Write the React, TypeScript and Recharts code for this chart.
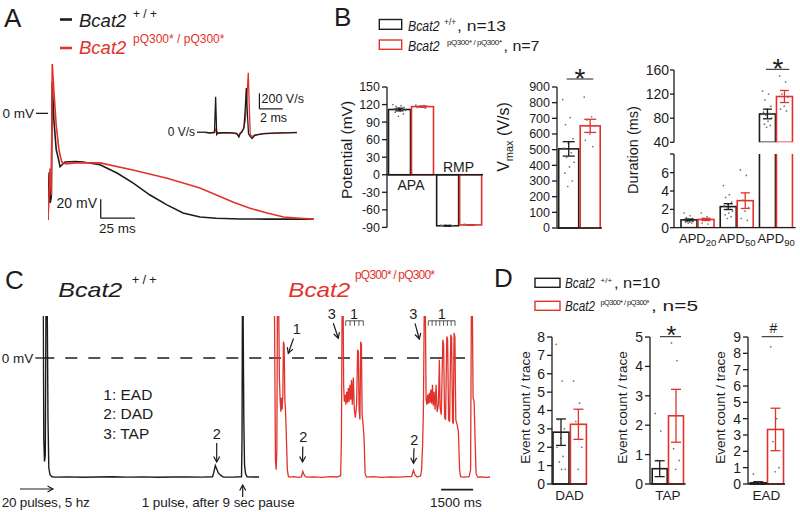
import React from 'react';
import { LineChart, Line, BarChart, Bar, ErrorBar, XAxis, YAxis, ReferenceLine } from 'recharts';

const RED = '#e2322c';
const INK = '#1c1c1c';
const DOT = '#707070';
const FONT = '"Liberation Sans", Arial, Helvetica, sans-serif';

// ---------------- Panel A : action potentials (time ms, membrane potential mV) ----------------
const apWildType: [number, number][] = [
  [0, -112], [0.8, -62], [1.6, -94], [2.4, -88], [3.1, 33], [4.3, -7], [6.0, -38], [7.5, -47], [8.8, -56],
  [12.4, -51], [20, -50.5], [25.6, -51], [38, -54], [50.4, -62.6], [62, -73], [74.5, -85.7], [86.9, -96],
  [98.6, -104.6], [111, -108.8], [123, -110], [140, -110.8], [160, -111], [194, -111],
];
const apMutant: [number, number][] = [
  [0, -112], [1.5, -58], [2.5, -86], [3.1, 51.7], [4.5, 19], [6, -12.4], [8, -38.5], [10, -51], [13, -53],
  [20, -52], [38, -52], [62, -59.5], [87, -68], [111, -78.4], [135, -93], [147, -99.4], [160, -104.6],
  [172, -108.8], [184, -110], [194, -111],
];
// inset : dV/dt (time ms, V/s)
const dvdtWildType: [number, number][] = [
  [0, 0], [0.43, -10], [0.81, 0], [0.91, 456], [1.0, -30], [1.11, -10], [1.71, -5], [2.39, -8], [2.7, -15],
  [2.9, -62], [3.0, -20], [3.15, 0], [3.33, 60], [3.44, 300], [3.53, 568], [3.62, 250], [3.72, -20],
  [3.89, -60], [4.02, -80], [4.27, -40], [4.87, -20], [5.98, -12], [7.86, -5],
];
const dvdtMutant: [number, number][] = [
  [0, -5], [0.81, -8], [0.94, 40], [1.07, -15], [1.97, -5], [2.75, -20], [2.88, -45], [3.0, -10], [3.29, 40],
  [3.44, 150], [3.57, 420], [3.7, 765], [3.79, 300], [3.87, -30], [4.02, -55], [4.27, -35], [5.13, -15],
  [6.41, -8], [7.86, -2],
];

// ---------------- Panel B : bar charts ----------------
const potentialCats = ['APA', 'RMP'];
const potentialWt = [111.5, -87.2];
const potentialWtErr = [2.3, 0.6];
const potentialMut = [116.5, -85.8];
const potentialMutErr = [1.0, 0.5];
const potentialWtDots = [
  [120, 118, 117, 115, 114, 113, 112, 111, 110, 109, 107, 104, 100],
  [-86, -86.5, -87, -87, -87.5, -88, -87, -86.5, -88, -87.5, -87, -88, -87],
];
const potentialMutDots = [
  [119, 118, 117, 117, 116, 115, 114],
  [-85, -86, -86.5, -85.5, -86, -85, -86],
];

const vmaxCats = ['Vmax'];
const vmaxWt = [505];
const vmaxWtErr = [46];
const vmaxMut = [652];
const vmaxMutErr = [42];
const vmaxWtDots = [[820, 705, 660, 570, 540, 510, 480, 450, 420, 390, 350, 300, 265]];
const vmaxMutDots = [[835, 710, 690, 650, 600, 560, 520]];

const apdCats = ['APD20', 'APD50', 'APD90'];
const apdWt = [0.85, 2.3, 87];
const apdWtErr = [0.1, 0.32, 8];
const apdMut = [0.9, 2.95, 116];
const apdMutErr = [0.12, 0.85, 10];
const apdWtDots = [
  [1.6, 1.3, 1.1, 1.0, 0.9, 0.8, 0.8, 0.7, 0.7, 0.6, 0.6, 0.5, 0.5],
  [4.6, 3.6, 3.3, 2.8, 2.6, 2.4, 2.2, 2.0, 1.8, 1.6, 1.4, 1.2, 1.0],
  [125, 120, 110, 100, 95, 90, 88, 85, 80, 75, 70, 68, 65],
];
const apdMutDots = [
  [1.6, 1.2, 1.0, 0.9, 0.8, 0.5, 0.4],
  [6.3, 5.7, 3.0, 2.2, 1.8, 1.0, 0.8],
  [150, 140, 120, 115, 100, 95, 92],
];

// ---------------- Panel C : long recordings (time ms, mV) ----------------
const cWildType: [number, number][] = [
  [0, 40], [42, 40], [70, -58.4], [103, -74], [141, -69], [173, 40], [230, 40], [267, -44], [305, -78.4],
  [361, -83.4], [455, -84.8], [595, -85.1], [1200, -84.9], [1900, -85.2], [2600, -85.0], [3300, -84.8],
  [4000, -85.1], [4700, -84.9], [5400, -85.2], [6100, -85.0], [6800, -84.9], [7500, -85.1], [7978, -84.8],
  [8034, -81.9], [8109, -76.9], [8166, -79], [8250, -82.1], [8353, -83.7], [8484, -85], [8900, -85.1],
  [9338, -84.8], [9361, -58.4], [9380, 40], [9408, 40], [9445, -44], [9478, -76.2], [9525, -82.6],
  [9595, -84.8], [9900, -85.0], [10158, -85.0],
];
const cMutant: [number, number][] = [
  [0, 40], [75, 40], [122, -72.6], [155, -79.8], [188, -65.5], [216, 40], [272, 40], [309, -15.5], [342, -29.8],
  [375, -38.4], [403, -28.4], [436, -36.9], [469, -26.2], [497, 11.6], [530, 9.5], [563, -29.8], [595, -36.9],
  [638, -58.4], [680, -79.8], [731, -84.8], [811, -85.1],
  [1000, -84.8], [1200, -85.2], [1340, -85.0], [1406, -81.0], [1470, -83.5], [1530, -84.8], [1620, -85.1],
  [1900, -84.9], [2300, -85.2], [2700, -84.8], [3000, -85.0],
  [3178, -84.1], [3216, -58.4], [3248, 40], [3295, 40], [3319, -19.1], [3352, -31.2], [3389, -26.2],
  [3427, -33.4], [3464, -24.1], [3502, -31.9], [3539, -21.2], [3577, -31.2], [3614, -19.1], [3652, -29.8],
  [3689, -15.5], [3727, -33.4], [3773, -14.0], [3820, -36.9], [3867, -42.6], [3928, -33.4], [3975, 5.9],
  [4008, 4.5], [4045, -36.9], [4083, -44], [4120, 11.6], [4153, 9.5], [4186, -40.5], [4233, -47.6],
  [4280, -58.4], [4327, -82.6], [4397, -85.1],
  [4700, -84.8], [5100, -85.2], [5500, -84.9], [5900, -85.1], [6300, -84.8], [6506, -84.8], [6591, -80.1],
  [6670, -83.7], [6764, -85.0],
  [6928, -84.1], [6975, -79.8], [7022, -61.9], [7059, -36.9], [7102, 40], [7148, 40], [7186, -29.8],
  [7223, -33.4], [7261, -26.2], [7298, -32.6], [7336, -24.8], [7373, -31.9], [7411, -22.6], [7448, -32.6],
  [7486, -19.1], [7523, -34.1], [7561, -24.1], [7608, -36.9], [7655, -19.1], [7702, -38.4], [7763, -33.4],
  [7809, -1.2], [7842, -35.5], [7898, -40.5], [7969, 13.1], [8006, 9.5], [8053, -42.6], [8100, -44],
  [8156, 15.4], [8194, 13.1], [8241, -44], [8288, -45.5], [8344, 16.6], [8381, 14.5], [8428, -45.5],
  [8461, -46.9], [8498, 17.9], [8536, 15.2], [8578, -44], [8639, -47.6], [8700, -52.6], [8756, -79.8],
  [8803, -84.8],
  [8950, -85.1], [9100, -84.9], [9202, -84.8], [9272, -79.8], [9309, 40], [9352, 40], [9389, -28.4],
  [9436, -31.2], [9483, -58.4], [9530, -82.6], [9600, -85.1], [9800, -84.9], [10000, -85.2], [10190, -85.0],
];

// ---------------- Panel D : event counts ----------------
const dadWt = [2.82]; const dadWtErr = [0.72]; const dadMut = [3.25]; const dadMutErr = [0.82];
const dadWtDots = [[7.6, 5.6, 3.5, 3.0, 2.5, 2.0, 1.5, 1.2, 0.8, 0.8]];
const dadMutDots = [[5.6, 4.4, 3.4, 2.0, 0.8]];
const tapWt = [0.52]; const tapWtErr = [0.27]; const tapMut = [2.32]; const tapMutErr = [0.9];
const tapWtDots = [[2.4, 1.8, 0.8, 0, 0, 0, 0, 0, 0, 0]];
const tapMutDots = [[4.8, 4.2, 1.2, 0.8, 0.5]];
const eadWt = [0.07]; const eadWtErr = [0.07]; const eadMut = [3.34]; const eadMutErr = [1.3];
const eadWtDots = [[0.6, 0.1, 0, 0, 0, 0, 0, 0, 0, 0]];
const eadMutDots = [[8.4, 4.0, 2.6, 1.0, 0.75]];

// ---------------- helpers ----------------
const pts = (arr: [number, number][]) => arr.map(([t, v]) => ({ t, v }));

const rows = (cats: string[], wt: number[], wtErr: number[], mut: number[], mutErr: number[], wtDots: number[][], mutDots: number[][]) =>
  cats.map((cat, i) => ({ cat, wt: wt[i], wtErr: wtErr[i], mut: mut[i], mutErr: mutErr[i], wtDots: wtDots[i], mutDots: mutDots[i] }));

const apdRows = rows(apdCats, apdWt, apdWtErr, apdMut, apdMutErr, apdWtDots, apdMutDots);
const apdUpperRows = apdRows.map((r) => (r.wt > 40 ? r : { cat: r.cat, wt: null, wtErr: null, mut: null, mutErr: null, wtDots: [], mutDots: [] }));
const apdLowerRows = apdRows.map((r) => (r.wt > 40 ? { ...r, wtErr: null, mutErr: null, wtDots: [], mutDots: [] } : r));

const barShape = (color: string, key: string, base: number) => (props: any) => {
  const { x, y, width, height, payload } = props;
  const v = payload ? payload[key] : null;
  if (v == null || !isFinite(x) || !isFinite(y) || !isFinite(height)) return <g />;
  const top = Math.min(y, y + height);
  const bot = Math.max(y, y + height);
  const valPx = v >= base ? top : bot;
  const basePx = v >= base ? bot : top;
  const dots: number[] = (payload[key + 'Dots'] as number[]) || [];
  return (
    <g>
      <rect x={x} y={top} width={width} height={bot - top} fill="#fff" stroke={color} strokeWidth={1.6} />
      {dots.map((d, i) => {
        const frac = v === base ? 0 : (d - base) / (v - base);
        const py = basePx + (valPx - basePx) * frac;
        const px = x + width * (0.2 + 0.6 * ((i * 0.618034) % 1));
        return <circle key={i} cx={px} cy={py} r={0.85} fill={DOT} />;
      })}
    </g>
  );
};

const ApdTick = (props: any) => {
  const { x, y, payload } = props;
  const sub = String(payload && payload.value != null ? payload.value : '').replace('APD', '');
  return (
    <text x={x} y={y + 15} textAnchor="middle" fontSize={13} fill={INK} fontFamily={FONT}>
      APD<tspan fontSize={9.5} dy={3.5}>{sub}</tspan>
    </text>
  );
};

type BarPanelProps = {
  plotLeft: number; plotTop: number; plotW: number; plotH: number; yW: number;
  mt: number; mb: number; mr?: number; data: any[]; domain: [number, number]; ticks: number[];
  base: number; tickSize?: number; tickMargin?: number; tickFont: number; gap: number; catGap: number;
  xAxis: 'hide' | 'plain' | 'apd'; zeroLine?: boolean; padLeft?: number; capW: number;
  tickFmt?: (v: number) => string; overflow?: boolean;
};

function BarPanel(p: BarPanelProps) {
  const xh = p.xAxis === 'hide' ? 0 : 20;
  const mr = p.mr ?? 2;
  return (
    <div style={{ position: 'absolute', left: p.plotLeft - p.yW, top: p.plotTop - p.mt }}>
      <BarChart
        width={p.yW + p.plotW + mr}
        height={p.mt + p.plotH + p.mb + xh}
        data={p.data}
        margin={{ top: p.mt, right: mr, bottom: p.mb, left: 0 }}
        barGap={p.gap}
        barCategoryGap={p.catGap}
      >
        <XAxis
          dataKey="cat"
          hide={p.xAxis === 'hide'}
          height={xh}
          padding={{ left: p.padLeft ?? 0, right: 0 }}
          tickLine={false}
          tickSize={0}
          tickMargin={p.xAxis === 'apd' ? 0 : 6}
          interval={0}
          axisLine={{ stroke: INK, strokeWidth: 1.3 }}
          tick={p.xAxis === 'apd' ? <ApdTick /> : { fontSize: 13.5, fill: INK, fontFamily: FONT }}
        />
        <YAxis
          width={p.yW}
          domain={p.domain}
          ticks={p.ticks}
          interval={0}
          allowDataOverflow={!!p.overflow}
          tickSize={p.tickSize ?? 5}
          tickMargin={p.tickMargin ?? 2}
          tick={{ fontSize: p.tickFont, fill: INK, fontFamily: FONT }}
          axisLine={{ stroke: INK, strokeWidth: 1.3 }}
          tickLine={{ stroke: INK, strokeWidth: 1.3 }}
          tickFormatter={p.tickFmt}
        />
        {p.zeroLine && <ReferenceLine y={p.base} stroke={INK} strokeWidth={1.3} />}
        <Bar dataKey="wt" isAnimationActive={false} shape={barShape(INK, 'wt', p.base)}>
          <ErrorBar dataKey="wtErr" width={p.capW} stroke={INK} strokeWidth={1.3} direction="y" />
        </Bar>
        <Bar dataKey="mut" isAnimationActive={false} shape={barShape(RED, 'mut', p.base)}>
          <ErrorBar dataKey="mutErr" width={p.capW} stroke={RED} strokeWidth={1.3} direction="y" />
        </Bar>
      </BarChart>
    </div>
  );
}

function Arrow({ x1, y1, x2, y2 }: { x1: number; y1: number; x2: number; y2: number }) {
  const dx = x2 - x1;
  const dy = y2 - y1;
  const L = Math.hypot(dx, dy);
  const ux = dx / L;
  const uy = dy / L;
  const hl = 5.5;
  const hw = 3;
  const bx = x2 - ux * hl;
  const by = y2 - uy * hl;
  const px = -uy;
  const py = ux;
  return (
    <g stroke={INK} strokeWidth={1.2} fill="none">
      <line x1={x1} y1={y1} x2={x2} y2={y2} />
      <path d={`M${bx + px * hw},${by + py * hw} L${x2},${y2} L${bx - px * hw},${by - py * hw}`} />
    </g>
  );
}

function Comb({ x1, x2, y, n }: { x1: number; x2: number; y: number; n: number }) {
  const ticks = Array.from({ length: n }, (_, i) => x1 + (i * (x2 - x1)) / (n - 1));
  return (
    <g stroke="#444" strokeWidth={0.9} fill="none">
      <line x1={x1} y1={y} x2={x2} y2={y} />
      {ticks.map((tx, i) => (
        <line key={i} x1={tx} y1={y} x2={tx} y2={y + 5} />
      ))}
    </g>
  );
}

function Overlay() {
  return (
    <svg width={800} height={512} style={{ position: 'absolute', left: 0, top: 0, pointerEvents: 'none' }} fontFamily={FONT} fill={INK}>
      {/* panel letters */}
      <text x={4} y={27} fontSize={26}>A</text>
      <text x={334} y={25.5} fontSize={26}>B</text>
      <text x={5} y={288.5} fontSize={26}>C</text>
      <text x={494} y={287} fontSize={26}>D</text>

      {/* A legend */}
      <line x1={60} y1={19.5} x2={72} y2={19.5} stroke={INK} strokeWidth={2.6} />
      <text x={79} y={26.7} fontSize={18.5} fontStyle="italic">Bcat2</text>
      <text x={133} y={18} fontSize={12}>+ / +</text>
      <line x1={60} y1={48} x2={72} y2={48} stroke={RED} strokeWidth={2.6} />
      <text x={79} y={53.5} fontSize={18.5} fontStyle="italic" fill={RED}>Bcat2</text>
      <text x={133} y={43} fontSize={12} fill={RED}>pQ300* / pQ300*</text>

      {/* A scale labels */}
      <text x={97} y={208} fontSize={14} textAnchor="end">20 mV</text>
      <text x={99} y={233} fontSize={13.5}>25 ms</text>
      <text x={261.5} y={102.5} fontSize={12.5}>200 V/s</text>
      <text x={260} y={122} fontSize={12.5}>2 ms</text>

      {/* B legend */}
      <rect x={379.3} y={19.5} width={22.4} height={9.8} fill="none" stroke={INK} strokeWidth={1.4} />
      <text x={408} y={30.5} fontSize={14} fontStyle="italic" textLength={31.5} lengthAdjust="spacingAndGlyphs">Bcat2</text>
      <text x={444} y={24.5} fontSize={8.5}>+/+</text>
      <text x={457} y={30.5} fontSize={14.5} textLength={49} lengthAdjust="spacingAndGlyphs">, n=13</text>
      <rect x={379.3} y={40} width={22.4} height={9.3} fill="none" stroke={RED} strokeWidth={1.4} />
      <text x={408} y={50.7} fontSize={14} fontStyle="italic" textLength={31.5} lengthAdjust="spacingAndGlyphs">Bcat2</text>
      <text x={447} y={45} fontSize={8} textLength={55} lengthAdjust="spacing">pQ300* / pQ300*</text>
      <text x={503.5} y={50.7} fontSize={14.5} textLength={36} lengthAdjust="spacingAndGlyphs">, n=7</text>

      {/* B axis titles */}
      <text transform="translate(351.5,150) rotate(-90)" textAnchor="middle" fontSize={15.5}>Potential  (mV)</text>
      <text transform="translate(508.7,137) rotate(-90)" textAnchor="middle" fontSize={16}>
        V<tspan fontSize={11} dy={4}>max</tspan><tspan dy={-4}> (V/s)</tspan>
      </text>
      <text transform="translate(638.2,150) rotate(-90)" textAnchor="middle" fontSize={14.5}>Duration (ms)</text>
      <text x={411} y={190} fontSize={14} textAnchor="middle">APA</text>
      <text x={458.5} y={171.7} fontSize={14} textAnchor="middle">RMP</text>

      {/* B significance */}
      <line x1={566.7} y1={79} x2={593.3} y2={79} stroke={INK} strokeWidth={1} />
      <text x={580} y={88.2} fontSize={28} textAnchor="middle">*</text>
      <line x1={766} y1={69.3} x2={789.3} y2={69.3} stroke={INK} strokeWidth={1} />
      <text x={778} y={77.9} fontSize={28} textAnchor="middle">*</text>

      {/* C titles */}
      <text x={58.3} y={296.7} fontSize={21} fontStyle="italic" textLength={64} lengthAdjust="spacingAndGlyphs">Bcat2</text>
      <text x={131.7} y={283.5} fontSize={13} textLength={25} lengthAdjust="spacing">+ / +</text>
      <text x={288.3} y={296.7} fontSize={21} fontStyle="italic" fill={RED} textLength={62} lengthAdjust="spacingAndGlyphs">Bcat2</text>
      <text x={355} y={278.5} fontSize={12} fill={RED} textLength={80} lengthAdjust="spacing">pQ300* / pQ300*</text>

      {/* C legend */}
      <text x={103.3} y={400} fontSize={15.5}>1: EAD</text>
      <text x={103.3} y={419.3} fontSize={15.5}>2: DAD</text>
      <text x={103.3} y={439} fontSize={15.5}>3: TAP</text>

      {/* C bottom annotations */}
      <Arrow x1={20} y1={489} x2={53} y2={489} />
      <text x={1.7} y={507} fontSize={13.5} textLength={88} lengthAdjust="spacing">20 pulses, 5 hz</text>
      <Arrow x1={242.7} y1={497} x2={242.7} y2={485} />
      <text x={141.7} y={507} fontSize={13.5} textLength={153} lengthAdjust="spacing">1 pulse, after 9 sec pause</text>
      <text x={430} y={507} fontSize={13.5} textLength={51.7} lengthAdjust="spacing">1500 ms</text>

      {/* C event markers */}
      <text x={216.7} y={438.5} fontSize={14.5} textAnchor="middle">2</text>
      <Arrow x1={216.7} y1={443} x2={216.7} y2={462} />
      <text x={296.7} y={334} fontSize={14.5} textAnchor="middle">1</text>
      <Arrow x1={293.5} y1={338.5} x2={288.3} y2={353.3} />
      <text x={303.3} y={442} fontSize={14.5} textAnchor="middle">2</text>
      <Arrow x1={302.8} y1={446.5} x2={302.5} y2={462} />
      <text x={331.7} y={318.5} fontSize={14.5} textAnchor="middle">3</text>
      <Arrow x1={333.3} y1={323.3} x2={338.3} y2={338.3} />
      <text x={354} y={318.5} fontSize={14.5} textAnchor="middle">1</text>
      <Comb x1={345.7} x2={363.3} y={320.8} n={5} />
      <text x={413.3} y={318.5} fontSize={14.5} textAnchor="middle">3</text>
      <Arrow x1={415} y1={323.3} x2={419.3} y2={339} />
      <text x={441.7} y={318.5} fontSize={14.5} textAnchor="middle">1</text>
      <Comb x1={428.3} x2={455} y={320.8} n={8} />
      <text x={414.3} y={444.5} fontSize={14.5} textAnchor="middle">2</text>
      <Arrow x1={414} y1={448.3} x2={413.5} y2={463.3} />

      {/* D legend */}
      <rect x={535} y={278.3} width={25} height={9} fill="none" stroke={INK} strokeWidth={1.4} />
      <text x={565} y={288.3} fontSize={14} fontStyle="italic" textLength={30} lengthAdjust="spacingAndGlyphs">Bcat2</text>
      <text x={600.5} y={283} fontSize={8}>+/+</text>
      <text x={614} y={288.3} fontSize={15} textLength={46} lengthAdjust="spacingAndGlyphs">, n=10</text>
      <rect x={535} y={301.3} width={25} height={9} fill="none" stroke={RED} strokeWidth={1.4} />
      <text x={565} y={311} fontSize={14} fontStyle="italic" textLength={30} lengthAdjust="spacingAndGlyphs">Bcat2</text>
      <text x={600.5} y={305} fontSize={7.5} textLength={49} lengthAdjust="spacing">pQ300* / pQ300*</text>
      <text x={651} y={311} fontSize={15} textLength={47} lengthAdjust="spacingAndGlyphs">, n=5</text>

      {/* D axis titles */}
      <text transform="translate(529.8,407.5) rotate(-90)" textAnchor="middle" fontSize={13.5}>Event count / trace</text>
      <text transform="translate(626.5,407.5) rotate(-90)" textAnchor="middle" fontSize={13.5}>Event count / trace</text>
      <text transform="translate(724.8,407.5) rotate(-90)" textAnchor="middle" fontSize={13.5}>Event count / trace</text>

      {/* D significance */}
      <line x1={660} y1={336.7} x2={681} y2={336.7} stroke={INK} strokeWidth={1} />
      <text x={671.3} y={344} fontSize={26} textAnchor="middle">*</text>
      <line x1={761.7} y1={336.7} x2={783.3} y2={336.7} stroke={INK} strokeWidth={1} />
      <text x={773.3} y={332.7} fontSize={14} textAnchor="middle">#</text>
    </svg>
  );
}

export default function App() {
  const tickStyle = { fontSize: 13.5, fill: INK, fontFamily: FONT };
  return (
    <div style={{ position: 'absolute', left: 0, top: 0, width: 800, height: 512, background: '#fff', fontFamily: FONT, overflow: 'hidden' }}>
      {/* Panel A main traces */}
      <div style={{ position: 'absolute', left: 0, top: 60 }}>
        <LineChart width={315} height={162} margin={{ top: 0, right: 0, bottom: 0, left: 0 }}>
          <XAxis dataKey="t" type="number" domain={[0, 195]} hide allowDataOverflow />
          <YAxis width={48} type="number" domain={[-114, 56]} ticks={[0]} tickFormatter={() => '0 mV'} axisLine={false}
            tickSize={12} tickLine={{ stroke: INK, strokeWidth: 1.3 }} tick={tickStyle} allowDataOverflow />
          <ReferenceLine segment={[{ x: 38.5, y: -90 }, { x: 38.5, y: -110 }]} stroke={INK} strokeWidth={1.3} />
          <ReferenceLine segment={[{ x: 38.5, y: -110 }, { x: 63.5, y: -110 }]} stroke={INK} strokeWidth={1.3} />
          <Line data={pts(apWildType)} dataKey="v" type="linear" stroke={INK} strokeWidth={1.6} dot={false} isAnimationActive={false} />
          <Line data={pts(apMutant)} dataKey="v" type="linear" stroke={RED} strokeWidth={1.6} dot={false} isAnimationActive={false} />
        </LineChart>
      </div>

      {/* Panel A inset dV/dt */}
      <div style={{ position: 'absolute', left: 165, top: 70 }}>
        <LineChart width={133.6} height={70} margin={{ top: 0, right: 0, bottom: 0, left: 0 }}>
          <XAxis dataKey="t" type="number" domain={[0, 8]} hide allowDataOverflow />
          <YAxis width={40} type="number" domain={[-100, 800]} ticks={[0]} tickFormatter={() => '0 V/s'} axisLine={false}
            tickSize={8} tickLine={{ stroke: INK, strokeWidth: 1.3 }} tick={{ fontSize: 12, fill: INK, fontFamily: FONT }} allowDataOverflow />
          <ReferenceLine segment={[{ x: 4.65, y: 300 }, { x: 4.65, y: 500 }]} stroke={INK} strokeWidth={1.2} />
          <ReferenceLine segment={[{ x: 4.65, y: 300 }, { x: 6.65, y: 300 }]} stroke={INK} strokeWidth={1.2} />
          <Line data={pts(dvdtMutant)} dataKey="v" type="linear" stroke={RED} strokeWidth={1.3} dot={false} isAnimationActive={false} />
          <Line data={pts(dvdtWildType)} dataKey="v" type="linear" stroke={INK} strokeWidth={1.3} dot={false} isAnimationActive={false} />
        </LineChart>
      </div>

      {/* Panel B */}
      <BarPanel plotLeft={386.7} plotTop={87.3} plotW={96.3} plotH={140.4} yW={38} mt={10} mb={10} mr={0}
        data={rows(potentialCats, potentialWt, potentialWtErr, potentialMut, potentialMutErr, potentialWtDots, potentialMutDots)}
        domain={[-90, 150]} ticks={[-90, -60, -30, 0, 30, 60, 90, 120, 150]} base={0} tickFont={12.5}
        gap={1} catGap={1.5} xAxis="hide" zeroLine capW={4} />
      <BarPanel plotLeft={556.7} plotTop={87.3} plotW={45.5} plotH={141} yW={30} mt={10} mb={10} mr={0}
        data={rows(vmaxCats, vmaxWt, vmaxWtErr, vmaxMut, vmaxMutErr, vmaxWtDots, vmaxMutDots)}
        domain={[0, 900]} ticks={[0, 100, 200, 300, 400, 500, 600, 700, 800, 900]} base={0} tickFont={12.5}
        gap={1.5} catGap={1.7} xAxis="hide" zeroLine capW={6} />
      <BarPanel plotLeft={674.3} plotTop={70} plotW={121.7} plotH={72.3} yW={36} mt={10} mb={10} mr={0}
        data={apdUpperRows} domain={[40, 160]} ticks={[40, 80, 120, 160]} base={40} tickFont={14}
        tickSize={4} tickMargin={1} gap={1} catGap={3} xAxis="hide" padLeft={4} capW={4.5} overflow />
      <BarPanel plotLeft={674.3} plotTop={154} plotW={121.7} plotH={73.7} yW={36} mt={8} mb={0} mr={0}
        data={apdLowerRows} domain={[0, 8.04]} ticks={[0, 2, 4, 6, 8.04]} base={0} tickFont={14}
        tickSize={4} tickMargin={1} gap={1} catGap={3} xAxis="apd" padLeft={4} capW={4.5} overflow
        tickFmt={(v: number) => (v > 7 ? '' : String(v))} />

      {/* Panel C traces */}
      <div style={{ position: 'absolute', left: 0, top: 316.3 }}>
        <LineChart width={264.2} height={182} margin={{ top: 0, right: 0, bottom: 0, left: 0 }}>
          <XAxis dataKey="t" type="number" domain={[0, 10400]} hide allowDataOverflow />
          <YAxis width={42.3} type="number" domain={[-100, 30]} ticks={[0]} tickFormatter={() => '0 mV'} axisLine={false}
            tickSize={7} tickLine={{ stroke: INK, strokeWidth: 1.3 }} tick={tickStyle} allowDataOverflow />
          <ReferenceLine y={0} stroke={INK} strokeWidth={1.5} strokeDasharray="12 11" />
          <Line data={pts(cWildType)} dataKey="v" type="linear" stroke={INK} strokeWidth={1.4} dot={false} isAnimationActive={false} />
        </LineChart>
      </div>
      <div style={{ position: 'absolute', left: 268.9, top: 316.3 }}>
        <LineChart width={221.4} height={182} margin={{ top: 0, right: 0, bottom: 0, left: 0 }}>
          <XAxis dataKey="t" type="number" domain={[-180, 10200]} hide allowDataOverflow />
          <YAxis hide type="number" domain={[-100, 30]} allowDataOverflow />
          <ReferenceLine segment={[{ x: -180, y: 0 }, { x: 9530, y: 0 }]} stroke={INK} strokeWidth={1.5} strokeDasharray="12 11" />
          <ReferenceLine segment={[{ x: 7890, y: -94 }, { x: 9390, y: -94 }]} stroke={INK} strokeWidth={1.6} />
          <Line data={pts(cMutant)} dataKey="v" type="linear" stroke={RED} strokeWidth={1.3} dot={false} isAnimationActive={false} />
        </LineChart>
      </div>

      {/* Panel D */}
      <BarPanel plotLeft={552.3} plotTop={337} plotW={35} plotH={147} yW={24} mt={8} mb={0}
        data={rows(['DAD'], dadWt, dadWtErr, dadMut, dadMutErr, dadWtDots, dadMutDots)}
        domain={[0, 8]} ticks={[0, 1, 2, 3, 4, 5, 6, 7, 8]} base={0} tickFont={14}
        gap={1.4} catGap={1} xAxis="plain" capW={5} />
      <BarPanel plotLeft={650} plotTop={337} plotW={35.7} plotH={147} yW={24} mt={8} mb={0}
        data={rows(['TAP'], tapWt, tapWtErr, tapMut, tapMutErr, tapWtDots, tapMutDots)}
        domain={[0, 5]} ticks={[0, 1, 2, 3, 4, 5]} base={0} tickFont={14}
        gap={1.3} catGap={2.2} xAxis="plain" capW={5} />
      <BarPanel plotLeft={748.3} plotTop={337} plotW={37} plotH={147} yW={24} mt={8} mb={0}
        data={rows(['EAD'], eadWt, eadWtErr, eadMut, eadMutErr, eadWtDots, eadMutDots)}
        domain={[0, 9]} ticks={[0, 1, 2, 3, 4, 5, 6, 7, 8, 9]} base={0} tickFont={14}
        gap={1.3} catGap={2.2} xAxis="plain" capW={5} />

      <Overlay />
    </div>
  );
}
